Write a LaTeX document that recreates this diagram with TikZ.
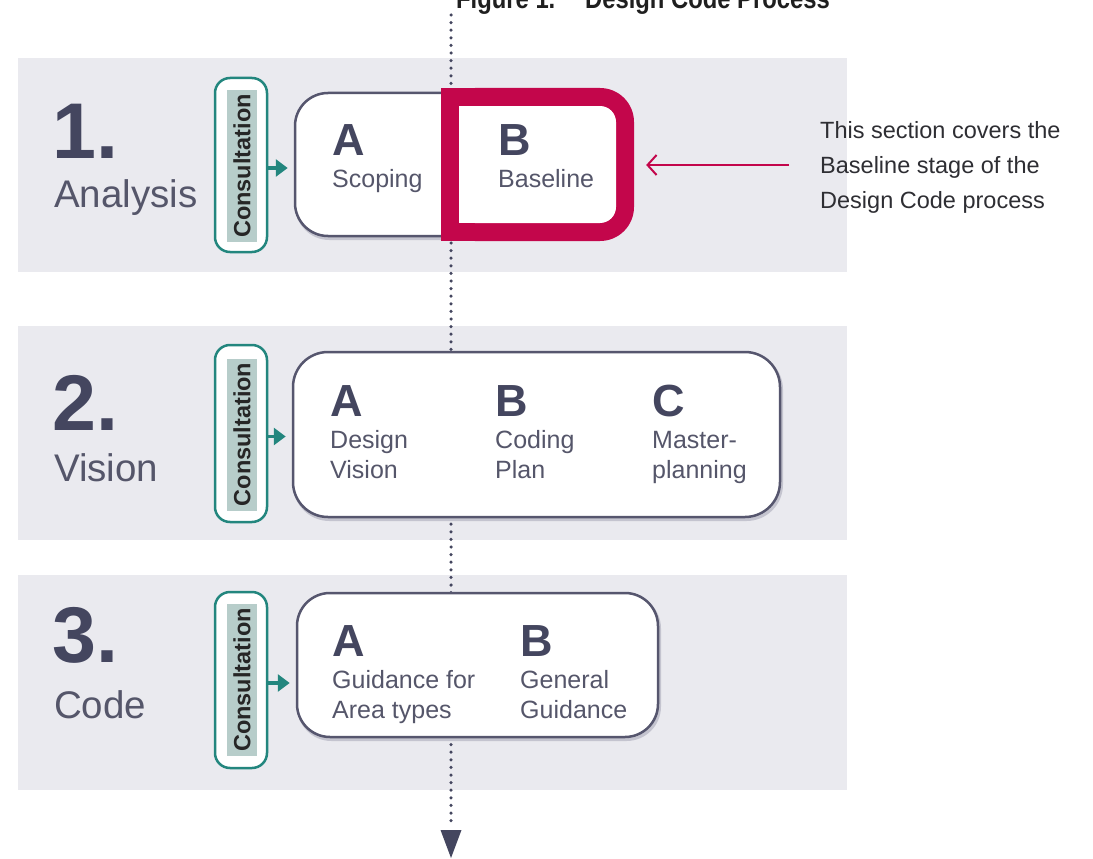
\documentclass[tikz,border=0pt]{standalone}
\usepackage{fontspec}
\setmainfont{Liberation Sans}
\usetikzlibrary{arrows.meta}
\definecolor{bandgray}{HTML}{EAEAEF}
\definecolor{navy}{HTML}{44465F}
\definecolor{labelgray}{HTML}{55566A}
\definecolor{boxline}{HTML}{56566E}
\definecolor{boxshadow}{HTML}{C4C4CF}
\definecolor{tealc}{HTML}{23867E}
\definecolor{hilite}{HTML}{B7CDCA}
\definecolor{crimson}{HTML}{C3064B}
\definecolor{anntext}{HTML}{2E2E33}
\begin{document}
\begin{tikzpicture}[x=1pt,y=-1pt,
  bandbox/.style={fill=bandgray, draw=none, minimum width=829pt, inner sep=0pt},
  numtxt/.style={anchor=base west, inner sep=0pt, text=navy, font=\bfseries\fontsize{79}{80}\selectfont},
  stagetxt/.style={anchor=base west, inner sep=0pt, text=labelgray, font=\fontsize{38.5}{40}\selectfont},
  pill/.style={draw=tealc, line width=2.5pt, fill=white, rounded corners=15pt, minimum width=52pt, inner sep=0pt},
  hl/.style={fill=hilite, rotate=90, inner sep=0pt, minimum width=152pt, minimum height=30pt, text=black!85, font=\bfseries\fontsize{23.5}{25}\selectfont},
  conarrow/.style={draw=tealc, line width=3.5pt, -{Triangle[length=12pt,width=17pt]}, shorten >=6pt},
  stepbox/.style={draw=boxline, line width=2.5pt, fill=white, inner sep=0pt},
  shadowbox/.style={draw=boxshadow, line width=3pt, inner sep=0pt},
  letter/.style={anchor=base west, inner sep=0pt, text=navy, font=\bfseries\fontsize{45}{48}\selectfont},
  sublabel/.style={anchor=base west, inner sep=0pt, text=labelgray, align=left, font=\fontsize{25}{30}\selectfont},
  dotline/.style={draw=navy, line width=3.5pt, line cap=round, dash pattern=on 0pt off 7.6pt},
  annarrow/.style={draw=crimson, line width=2pt, -{Straight Barb[length=9pt,width=20pt,line width=2pt]}},
]
\useasboundingbox (0,0) rectangle (1093,859);
\fill[white] (0,0) rectangle (1093,859);

% title (cropped at top)
\node[anchor=base west, inner sep=0pt, font=\bfseries\fontsize{28}{30}\selectfont, xscale=0.85, text=black!88] (title1) at (456,9) {Figure 1.};
\node[anchor=base west, inner sep=0pt, font=\bfseries\fontsize{28}{30}\selectfont, xscale=0.85, text=black!88] (title2) at (585,9) {Design Code Process};

% bands
\node[bandbox, minimum height=214pt] (band1) at (432.5,165) {};
\node[bandbox, minimum height=214pt] (band2) at (432.5,433) {};
\node[bandbox, minimum height=215pt] (band3) at (432.5,682.5) {};

% dotted process line
\coordinate (ftop) at (451,15);
\coordinate (fbot) at (451,826);
\draw[dotline] (ftop) -- (fbot);
\fill[navy] (440.5,830) -- (461.5,830) -- (451,858) -- cycle;

% stage titles
\node[numtxt] (n1) at (52,158) {1.};
\node[stagetxt] (s1) at (54,207) {Analysis};
\node[numtxt] (n2) at (52,430) {2.};
\node[stagetxt] (s2) at (54,481) {Vision};
\node[numtxt] (n3) at (52,662) {3.};
\node[stagetxt] (s3) at (54,718) {Code};

% consultation pills
\node[pill, minimum height=174pt] (c1) at (241,165) {};
\node[hl] (h1) at (242,166) {Consultation};
\node[pill, minimum height=177pt] (c2) at (241,433.5) {};
\node[hl] (h2) at (242,434.5) {Consultation};
\node[pill, minimum height=176pt] (c3) at (241,680) {};
\node[hl] (h3) at (242,680) {Consultation};

% boxes
\node[shadowbox, rounded corners=33pt, minimum width=330pt, minimum height=143pt] at (461.5,167) {};
\node[stepbox, rounded corners=33pt, minimum width=330pt, minimum height=143pt] (box1) at (460,164.5) {};
\node[shadowbox, rounded corners=35pt, minimum width=487pt, minimum height=165pt] at (538,437) {};
\node[stepbox, rounded corners=35pt, minimum width=487pt, minimum height=165pt] (box2) at (536.5,434.5) {};
\node[shadowbox, rounded corners=33pt, minimum width=361pt, minimum height=144pt] at (479,667.5) {};
\node[stepbox, rounded corners=33pt, minimum width=361pt, minimum height=144pt] (box3) at (477.5,665) {};

% consultation arrows
\draw[conarrow] ([yshift=-3pt]c1.east) -- ([yshift=-3pt]c1.east -| box1.west);
\draw[conarrow] ([yshift=-3pt]c2.east) -- ([yshift=-3pt]c2.east -| box2.west);
\draw[conarrow] ([yshift=-3pt]c3.east) -- ([yshift=-3pt]c3.east -| box3.west);

% highlight frame around Baseline
\fill[crimson, rounded corners=34pt] (441,88) rectangle (634,241);
\fill[crimson] (441,88) rectangle (500,241);
\fill[white, rounded corners=16pt] (459,106) rectangle (616,223);
\fill[white] (459,106) rectangle (520,223);
\node[inner sep=0pt, minimum width=193pt, minimum height=153pt] (frame) at (537.5,164.5) {};

% box 1 contents
\node[letter] (a1) at (332,155) {A};
\node[sublabel] (l1a) at (332,187) {Scoping};
\node[letter] (b1) at (498,155) {B};
\node[sublabel] (l1b) at (498,187) {Baseline};

% box 2 contents (base anchor = last line)
\node[letter] (a2) at (330,416) {A};
\node[sublabel] (l2a) at (330,478) {Design\\Vision};
\node[letter] (b2) at (495,416) {B};
\node[sublabel] (l2b) at (495,478) {Coding\\Plan};
\node[letter] (c2l) at (652,416) {C};
\node[sublabel] (l2c) at (652,478) {Master-\\planning};

% box 3 contents
\node[letter] (a3) at (332,656) {A};
\node[sublabel] (l3a) at (332,718) {Guidance for\\Area types};
\node[letter] (b3) at (520,656) {B};
\node[sublabel] (l3b) at (520,718) {General\\Guidance};

% annotation
\node[anchor=base west, inner sep=0pt, align=left, text=anntext, font=\fontsize{23.5}{35}\selectfont] (ann) at (820,208) {This section covers the\\Baseline stage of the\\Design Code process};
\coordinate (annstart) at (789,165);
\draw[annarrow, shorten >=12pt] (annstart) -- (annstart -| frame.east);
\end{tikzpicture}
\end{document}
